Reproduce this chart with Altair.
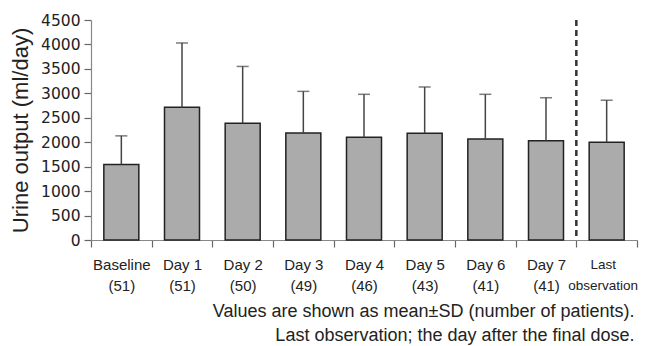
import altair as alt
import pandas as pd

categories = ["Baseline|(51)", "Day 1|(51)", "Day 2|(50)", "Day 3|(49)", "Day 4|(46)",
              "Day 5|(43)", "Day 6|(41)", "Day 7|(41)", "Last|observation"]
means = [1545, 2715, 2390, 2190, 2100, 2185, 2065, 2030, 2000]
sds = [585, 1315, 1160, 850, 880, 945, 915, 880, 860]
y_ticks = [0, 500, 1000, 1500, 2000, 2500, 3000, 3500, 4000, 4500]
footnote = ["Values are shown as mean\u00b1SD (number of patients).",
            "Last observation; the day after the final dose."]

df = pd.DataFrame({"cat": categories, "mean": means, "sd": sds})
df["upper"] = df["mean"] + df["sd"]
divider = pd.DataFrame({"cat": ["Last|observation"]})

xscale = alt.Scale(domain=categories, paddingInner=0, paddingOuter=0)
yscale = alt.Scale(domain=[0, 4500], nice=False)

last_test = "datum.value == 'Last|observation'"

x_axis = alt.Axis(title=None, labelAngle=0, labelExpr="split(datum.label, '|')",
                  tickBand="extent", tickSize=7, labelPadding=10, labelLineHeight=21,
                  labelFont="Liberation Sans",
                  labelFontSize={"condition": {"test": last_test, "value": 13.5}, "value": 15},
                  labelOffset={"condition": {"test": last_test, "value": -4}, "value": 0},
                  labelColor="#222",
                  domainColor="#888", tickColor="#666", domainWidth=1.2, tickWidth=1.2)
y_axis = alt.Axis(title="Urine output (ml/day)", values=y_ticks, format="d", grid=False,
                  tickSize=7, labelPadding=4, labelFont="DejaVu Sans", labelFontSize=15.5,
                  labelColor="#222", titleFont="Liberation Sans", titleFontSize=22,
                  titleFontWeight="normal", titleColor="#222", titlePadding=8,
                  domainColor="#888", tickColor="#666", domainWidth=1.2, tickWidth=1.2)

base = alt.Chart(df)

bars = base.mark_bar(width=35, fill="#aaabaa", stroke="#222", strokeWidth=1.5).encode(
    x=alt.X("cat:N", scale=xscale, sort=categories, axis=x_axis),
    y=alt.Y("mean:Q", scale=yscale, axis=y_axis),
)

whisker = base.mark_rule(color="#444", strokeWidth=1.5).encode(
    x=alt.X("cat:N", scale=xscale, sort=categories, axis=x_axis),
    y=alt.Y("mean:Q", scale=yscale, axis=y_axis),
    y2="upper:Q",
)

caps = base.mark_tick(color="#444", size=12, thickness=1.5).encode(
    x=alt.X("cat:N", scale=xscale, sort=categories, axis=x_axis),
    y=alt.Y("upper:Q", scale=yscale, axis=y_axis),
)

dash = alt.Chart(divider).mark_rule(color="#333", strokeWidth=2.5, strokeDash=[6, 4],
                                    xOffset=-30.33).encode(
    x=alt.X("cat:N", scale=xscale, sort=categories, axis=x_axis),
    y=alt.value(0),
    y2=alt.value(220),
)

chart = alt.layer(bars, whisker, caps, dash).properties(
    width=546,
    height=220,
    autosize=alt.AutoSizeParams(type="none"),
    padding={"left": 83, "top": 12, "right": 2, "bottom": 106},
    title=alt.TitleParams(text=footnote, orient="bottom", anchor="end", align="right",
                          font="Liberation Sans", fontSize=18, fontWeight="normal",
                          color="#222", lineHeight=24, offset=10, dx=-3),
).configure_view(stroke=None)

chart.save("out.html", embed_options={"renderer": "svg", "actions": False})
